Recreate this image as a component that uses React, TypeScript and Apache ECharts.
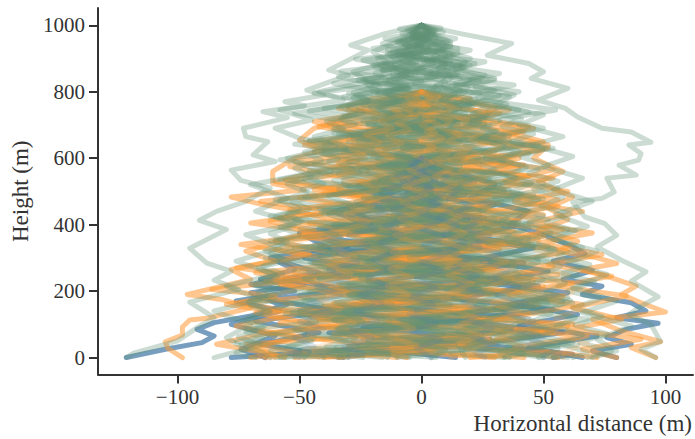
import React, { useEffect, useRef } from "react";
import * as echarts from "echarts";

const xTicks = [-100, -50, 0, 50, 100];
const yTicks = [0, 200, 400, 600, 800, 1000];

// flat lists: x, height, x, height, ...
const blueTraces: number[][] = [
  [0,600,-8,560,-20,520,-14,480,-36,440,-24,405,-50,375,-38,330,-62,300,-52,265,-66,235,-48,220,-70,195,-60,165,-55,160,-70,125,-85,105,-92,85,-85,65,-90,45,-105,25,-121,0],
  [0,600,14,560,30,520,20,480,44,440,36,400,49,373,60,340,67,313,54,290,70,262,58,235,74,215,66,190,86,165,92,140,80,120,97,103,84,85,76,60,86,40,70,20,80,0],
  [0,600,-12,570,6,530,-22,500,-4,465,-30,430,-10,395,-40,365,-16,330,-48,300,-20,265,-56,235,-30,205,-62,175,-36,140,-68,110,-42,75,-66,40,-46,15,-78,0],
  [0,600,10,565,-8,530,18,490,-14,455,26,420,-6,385,34,350,-2,315,42,285,6,250,48,215,10,180,54,145,16,110,58,75,22,40,62,10,54,0],
  [0,600,-4,560,-16,525,6,490,-26,460,14,425,-32,395,4,360,-42,330,20,295,-24,265,32,235,-36,205,10,175,-50,140,24,110,-38,75,18,40,-52,15,-32,0],
  [0,600,6,560,22,530,-6,495,30,460,8,430,38,395,16,360,46,330,22,295,52,260,26,225,60,195,36,160,64,130,40,95,72,65,44,30,66,0],
  [0,600,-6,550,4,500,-10,450,12,410,-18,370,20,335,-16,300,26,265,-22,230,30,195,-28,160,34,125,-24,90,28,55,-20,25,14,0],
  [0,600,2,540,-14,490,-30,450,-20,410,-46,370,-30,335,-58,290,-42,255,-70,220,-52,200,-76,170,-58,140,-78,100,-60,65,-74,25,-64,0],
  [0,600,-4,578,1,558,-6,536,-2,513,-9,492,-4,467,-12,445,-6,419,-15,396,-8,370,-17,346,-10,320,-20,295,-12,268,-22,243,-14,216,-25,190,-16,163,-27,138,-18,111,-29,85,-20,58,-32,33,-24,12,-30,0],
  [0,600,3,579,-1,559,6,537,2,515,9,493,4,469,12,447,7,421,15,398,9,372,18,348,11,322,20,297,13,270,23,245,15,218,25,193,17,166,27,140,19,114,29,88,21,61,31,36,22,14,26,0],
  [0,600,6,584,3,564,11,546,7,523,15,504,11,480,20,460,14,435,24,413,18,387,28,364,21,338,32,314,25,288,36,264,28,237,40,213,31,187,43,162,34,136,46,111,37,84,50,60,40,34,52,12,50,0],
  [0,600,-5,585,-2,565,-10,547,-6,524,-15,505,-10,481,-20,461,-14,436,-25,414,-19,388,-30,365,-22,339,-34,315,-26,288,-38,264,-30,238,-43,213,-33,187,-46,163,-37,136,-50,111,-40,84,-52,60,-44,34,-54,12,-50,0],
  [0,600,-3,577,2,555,-4,533,4,509,-2,486,7,462,-1,438,8,413,0,389,9,363,1,338,10,312,0,287,8,261,-2,236,6,210,-4,184,5,158,-5,132,6,106,-4,80,8,54,-2,28,4,0],
];

const orangeTraces: number[][] = [
  [0,800,-12,780,-24,755,-35,708,-44,690,-50,654,-40,625,-52,600,-61,560,-61,524,-48,505,-78,483,-66,462,-50,440,-62,410,-44,385,-58,350,-72,320,-60,290,-78,265,-70,235,-96,190,-82,175,-70,150,-88,118,-95,113,-98,92,-98,68,-105,47,-104,28,-98,0],
  [0,800,14,775,30,750,22,720,44,695,36,665,52,640,46,600,58,560,48,530,62,483,52,450,60,415,48,385,64,350,56,320,72,300,80,283,66,265,78,240,88,215,82,190,90,165,100,137,86,125,70,115,82,80,98,48,86,30,96,0],
  [0,800,-8,770,10,745,-20,720,4,695,-30,665,-6,640,22,615,-34,585,-2,555,30,525,-40,495,-10,465,24,435,-46,405,-6,375,38,345,-28,315,16,285,-52,255,-12,225,40,195,-36,165,10,135,-58,105,-20,75,30,45,-44,20,-10,0],
  [0,800,12,770,-6,745,24,720,-12,690,34,665,4,640,-20,610,42,580,8,550,-26,520,36,490,0,460,50,430,14,400,-30,370,44,340,6,310,-22,280,56,250,18,220,-14,190,48,160,4,130,62,100,22,70,-12,40,52,15,20,0],
  [0,800,-16,775,-30,750,-12,725,-42,695,-20,665,-48,640,-24,605,-54,575,-30,540,-8,510,-50,480,-22,450,-58,420,-32,385,-12,355,-60,325,-36,295,-10,260,-64,230,-40,200,-16,165,-68,135,-44,100,-14,70,-72,40,-48,12,-64,0],
  [0,800,18,775,36,745,16,720,46,690,22,660,52,630,28,600,10,570,54,540,26,505,56,475,32,445,12,415,58,385,30,350,60,320,34,285,14,255,62,225,36,190,66,160,40,125,18,95,68,65,38,30,72,0],
  [0,800,-4,775,6,755,-14,735,8,710,-20,690,14,665,-28,645,-4,620,24,600,-12,575,16,550,-32,525,6,500,-22,475,28,450,-14,425,10,400,-38,375,2,350,32,325,-18,300,20,275,-42,250,-4,225,28,200,-24,175,14,150,-46,125,-6,100,34,75,-28,50,6,25,-40,0],
  [0,800,5,770,-12,740,14,715,-22,685,18,660,-8,630,30,605,-26,580,8,555,-16,530,34,505,-4,480,-30,455,20,430,-10,405,38,380,-20,355,2,330,-36,305,26,280,-8,255,46,230,-18,205,4,180,-40,155,22,130,-14,105,42,80,-24,55,10,30,-34,0],
  [0,800,-20,780,-34,750,-18,735,-38,705,-10,680,-46,650,-14,625,-52,590,-22,560,-60,530,-28,500,-66,470,-36,440,-70,405,-40,375,-74,340,-46,310,-76,270,-44,240,-86,205,-60,185,-80,160,-52,130,-76,95,-50,60,-70,30,-56,0],
  [0,800,20,780,10,755,32,735,18,705,42,680,24,650,48,625,28,590,54,565,34,530,60,500,38,470,66,440,44,405,70,375,48,345,74,310,52,280,78,245,56,215,84,185,62,150,82,115,60,85,90,55,66,25,80,0],
  [0,800,3,780,-8,760,-2,735,-16,715,2,690,-24,670,-6,650,12,630,-14,605,8,580,-22,560,18,535,-6,510,28,490,-16,465,14,440,-24,415,26,395,-4,370,-30,345,12,320,-16,295,30,270,-6,245,-34,220,18,195,-12,170,34,145,-20,120,6,95,-36,70,22,45,-12,20,30,0],
  [0,800,8,775,16,750,2,730,26,705,8,680,36,655,14,630,40,600,18,570,44,545,20,515,-2,490,32,465,6,440,40,410,12,385,48,355,22,330,0,300,38,275,10,245,50,215,24,190,2,160,44,135,16,105,54,75,26,45,-2,20,42,0],
  [0,800,-10,770,-24,745,-6,720,-34,695,-12,670,-40,640,-18,615,2,590,-36,565,-12,535,-44,505,-16,480,6,455,-38,430,-14,395,-50,365,-24,340,4,310,-44,285,-20,250,-58,220,-26,195,2,165,-50,135,-22,110,-62,75,-30,45,0,15,-52,0],
  [0,800,-2,770,-16,750,4,720,-10,695,20,670,-8,645,-32,620,6,595,24,570,-18,545,10,520,-36,495,-6,470,18,445,-26,420,-2,395,28,370,-32,345,-10,320,16,295,-38,270,-2,245,24,220,-30,195,-10,170,20,145,-42,115,0,90,28,60,-30,35,-6,0],
  [0,800,10,760,28,735,6,705,34,680,50,650,30,625,12,595,40,570,22,540,4,510,42,480,56,455,30,425,16,395,50,365,28,335,8,305,54,275,34,245,14,215,58,185,36,155,16,125,60,95,38,65,18,35,56,0],
  [0,800,-14,760,-28,730,-44,710,-30,680,-16,650,-44,620,-26,590,-40,565,-56,535,-34,505,-18,475,-54,445,-34,410,-18,380,-60,350,-40,320,-20,290,-68,255,-44,225,-24,195,-74,165,-48,130,-26,100,-66,70,-84,40,-60,10,-70,0],
  [0,800,-6,782,-3,765,-12,748,-8,729,-17,711,-12,690,-23,671,-17,648,-29,629,-23,605,-35,584,-28,560,-40,538,-33,512,-45,490,-37,464,-49,441,-40,415,-52,391,-43,364,-55,340,-46,313,-57,288,-48,261,-60,236,-50,209,-62,184,-53,157,-64,132,-55,105,-66,80,-57,53,-68,28,-60,0],
  [0,800,-3,781,1,764,-6,746,-2,727,-10,708,-5,686,-14,667,-8,644,-18,624,-12,599,-22,578,-15,553,-25,530,-18,505,-28,482,-20,456,-31,432,-22,406,-33,382,-24,355,-36,330,-27,304,-38,279,-29,252,-40,227,-31,200,-42,175,-33,148,-44,122,-35,96,-46,71,-37,44,-48,20,-42,0],
  [0,800,-2,778,3,759,-1,740,5,719,0,699,6,678,-1,655,5,632,-3,610,4,586,-5,563,3,539,-7,515,2,491,-8,467,1,442,-9,418,0,393,-11,368,-1,343,-12,318,-3,292,-13,267,-4,241,-14,216,-5,190,-15,165,-4,139,-14,113,-3,88,-13,62,-2,37,-12,14,-6,0],
  [0,800,3,779,-1,760,5,741,1,721,7,702,2,680,9,659,3,636,11,614,4,590,12,568,5,544,14,521,6,496,15,473,7,448,16,424,8,398,18,374,9,349,19,324,10,298,20,273,11,247,21,222,12,196,22,170,13,144,23,119,14,93,24,67,15,42,22,16,12,0],
  [0,800,4,783,1,766,8,749,5,730,12,712,8,691,16,672,11,650,20,629,14,606,23,585,16,561,26,539,18,514,28,491,20,465,30,441,21,416,32,391,23,365,34,341,25,315,35,290,26,264,37,239,28,213,38,188,29,161,40,137,30,110,41,85,31,59,42,33,28,0],
  [0,800,7,786,4,769,13,753,9,734,19,717,14,697,25,678,20,656,32,636,26,613,38,592,31,568,43,547,35,522,47,499,39,474,50,450,42,424,53,400,45,374,55,350,47,324,58,299,50,273,60,248,51,222,62,197,53,170,65,145,55,119,66,93,57,67,68,42,59,18,58,0],
];

const greenTraces: number[][] = [
  [0,1000,-15,975,-29,940,-22,925,-38,865,-30,850,-47,805,-40,790,-56,770,-48,758,-65,740,-55,722,-73,690,-72,665,-63,650,-69,610,-60,590,-78,564,-74,533,-62,510,-72,470,-84,440,-91,413,-80,385,-95,329,-88,284,-78,260,-85,233,-75,205,-95,167,-85,120,-92,90,-100,50,-118,13,-121,0],
  [0,1000,16,975,37,945,27,910,44,885,50,860,45,840,60,810,48,775,59,750,64,724,74,690,86,679,94,648,85,640,90,614,89,594,81,579,88,549,76,540,79,498,74,479,62,468,67,423,75,404,80,368,72,333,82,293,92,258,86,230,97,183,92,163,85,130,94,100,98,48,90,25,96,0],
  [0,1000,-6,965,-12,945,-20,920,-14,890,-28,860,-22,830,-42,800,-32,775,-58,745,-45,715,-60,690,-50,660,-35,635,-55,600,-42,560,-70,520,-55,480,-68,440,-50,405,-72,370,-58,330,-76,290,-60,250,-80,215,-66,175,-85,140,-70,100,-80,60,-72,25,-85,0],
  [0,1000,6,970,12,950,8,925,20,900,14,870,30,840,22,815,38,790,30,760,50,730,40,700,58,665,45,640,62,605,50,575,66,540,54,505,70,470,55,430,68,395,52,360,72,320,60,285,76,250,62,210,80,170,66,135,86,95,72,55,80,20,70,0],
  [0,1000,-8,975,6,950,-14,925,10,905,-20,880,4,860,-26,835,-5,810,-32,785,-10,760,18,735,-22,705,8,680,-30,650,0,625,-38,590,-12,560,20,530,-25,500,10,470,-40,440,-5,410,30,380,-20,350,15,320,-45,285,0,255,35,225,-30,190,12,160,-50,125,-10,95,25,60,-35,30,-5,0],
  [0,1000,9,980,-6,955,15,930,-10,910,22,885,-3,860,30,835,5,810,36,785,12,755,-15,725,28,700,-5,670,42,640,10,610,-18,580,35,550,0,520,46,490,15,460,-12,430,40,400,5,370,52,335,20,305,-15,270,45,240,10,205,58,170,25,140,-8,105,48,70,15,35,55,0],
  [0,1000,-5,970,-16,945,-4,915,-24,895,-10,870,-34,845,-18,820,-44,795,-22,770,-52,735,-30,710,-10,690,-46,655,-20,630,-58,595,-28,565,-48,535,-15,505,-60,475,-30,445,-52,415,-18,385,-62,350,-35,320,-55,285,-22,255,-68,220,-40,185,-60,150,-25,120,-72,85,-45,50,-62,20,-40,0],
  [0,1000,6,965,12,940,6,920,18,890,10,865,26,850,14,825,40,800,25,775,55,745,32,715,50,690,22,660,54,630,26,600,48,570,18,540,56,510,30,480,50,450,22,420,60,385,35,350,58,315,28,285,64,250,38,215,60,180,30,150,68,115,40,80,62,45,35,15,50,0],
  [0,1000,3,975,-10,950,2,920,-18,900,0,875,-12,850,8,825,-18,800,4,770,-26,745,14,715,-12,685,24,660,-8,630,16,600,-22,575,10,545,-30,515,6,485,-16,455,24,425,-36,395,-4,365,18,335,-28,300,6,270,-42,235,-8,205,22,170,-38,140,2,110,-20,75,14,40,-30,10,-16,0],
  [0,1000,-3,960,12,935,-7,912,16,880,-16,862,9,840,-22,820,14,790,-24,760,22,735,-14,710,30,680,-26,650,20,620,-30,590,26,560,-20,530,34,500,-8,470,26,440,-28,410,20,380,-40,345,10,315,38,285,-14,255,28,220,-26,185,42,155,-4,120,32,85,-22,50,20,25,-10,0],
  [0,1000,-6,985,4,965,-9,950,3,935,-13,915,5,895,-17,878,-2,855,-24,838,-6,812,-30,795,-10,770,-40,750,-16,722,4,700,-34,672,-2,650,-44,618,-14,588,6,565,-32,535,-4,512,-48,482,-18,452,12,425,-36,398,-10,362,-52,330,-20,298,8,268,-42,238,-16,200,-56,165,-22,130,6,98,-44,66,-14,34,-58,0],
  [0,1000,5,985,-4,965,8,948,-2,930,12,912,2,892,18,874,4,852,24,832,8,810,32,790,14,768,40,745,18,718,-4,695,34,668,6,645,44,615,16,585,-6,558,38,532,8,505,50,478,22,448,-10,420,36,392,12,358,54,328,24,295,-6,265,44,232,16,198,58,162,26,128,-4,92,46,62,18,28,60,0],
  [0,1000,2,990,-4,975,3,958,-7,940,6,922,-12,905,9,888,-16,868,12,850,-20,828,16,806,-28,782,20,758,-32,728,26,702,-36,676,30,648,-40,620,34,594,-46,562,28,536,-34,508,40,478,-42,448,30,418,-50,388,44,358,-38,326,48,296,-52,262,36,232,-46,198,52,166,-56,132,42,100,-48,68,56,36,-60,0],
  [0,1000,-2,988,5,970,-8,955,0,938,-10,920,-2,902,10,884,-6,868,14,850,-14,832,6,815,-20,800,-2,778,20,762,-12,742,26,722,-22,700,12,682,-28,660,0,642,30,620,-18,598,16,576,-34,552,-6,530,36,506,-24,482,8,458,-38,434,-2,408,42,382,-16,356,24,330,-42,304,-8,278,40,250,-30,222,14,196,-48,170,2,142,44,116,-34,88,24,56,-50,24,-24,0],
  [0,1000,8,992,3,975,14,960,6,942,20,925,9,905,26,890,16,872,32,855,20,835,38,820,24,800,-4,780,30,760,44,738,20,712,-8,688,24,662,48,640,14,610,-14,582,30,555,50,525,8,498,-16,470,22,445,52,415,4,385,-24,352,26,322,56,292,10,260,-18,228,36,196,62,165,16,132,-26,100,30,70,64,38,12,12,34,0],
  [0,1000,-9,990,-3,975,-15,960,-5,945,-20,930,-8,912,-27,898,-12,880,-33,862,-16,845,-36,825,-20,805,6,785,-28,765,-46,742,-24,718,8,690,-30,668,-52,642,-18,615,10,590,-38,562,-58,535,-14,508,14,480,-40,452,-62,425,-22,392,18,362,-46,332,-64,300,-18,270,22,238,-50,208,-70,175,-26,145,16,112,-54,80,-76,48,-30,18,6,0],
  [0,1000,-4,982,-1,966,-8,951,-5,933,-12,921,-7,903,-15,888,-11,871,-19,856,-14,838,-23,824,-18,803,-27,789,-21,772,-30,756,-24,737,-33,719,-27,702,-36,688,-29,669,-38,652,-31,633,-41,617,-34,598,-44,581,-37,561,-46,543,-40,522,-49,506,-43,487,-53,469,-46,447,-55,431,-49,409,-58,392,-50,371,-60,352,-53,331,-62,313,-55,292,-65,274,-57,253,-66,236,-59,214,-67,196,-60,175,-70,157,-62,136,-71,118,-64,97,-72,78,-65,58,-74,39,-66,19,-62,0],
  [0,1000,3,984,-3,969,2,951,-6,936,-1,919,-9,902,-3,885,-12,867,-6,848,-15,832,-8,811,-18,793,-9,772,-21,754,-13,731,-24,712,-16,688,-28,669,-19,646,-31,624,-23,601,-33,579,-25,556,-36,533,-27,507,-38,485,-29,461,-41,438,-30,412,-42,389,-33,362,-44,339,-35,313,-46,289,-36,262,-48,238,-39,211,-50,187,-41,160,-53,136,-43,109,-52,85,-44,58,-55,33,-46,14,-48,0],
  [0,1000,-3,981,2,963,-5,946,1,927,-8,909,-2,889,-11,872,-4,851,-13,833,-5,812,-14,791,-6,768,-17,749,-8,726,-19,704,-9,681,-21,659,-11,634,-22,612,-13,587,-25,564,-14,539,-26,517,-15,491,-27,468,-16,442,-29,419,-18,392,-30,369,-19,342,-31,318,-20,291,-33,267,-21,240,-33,216,-22,189,-35,165,-24,138,-36,113,-25,86,-37,62,-26,34,-38,12,-30,0],
  [0,1000,2,983,-4,964,1,947,-6,928,0,909,-8,892,1,872,-9,851,0,831,-11,810,-1,789,-12,766,-2,744,-14,721,-3,699,-13,674,-2,652,-15,627,-4,604,-16,580,-5,556,-17,533,-6,509,-19,484,-7,460,-18,435,-6,411,-20,386,-8,361,-21,336,-9,311,-23,286,-10,262,-22,237,-11,211,-24,186,-12,161,-25,135,-13,110,-24,85,-12,60,-26,34,-13,13,-14,0],
  [0,1000,-2,980,3,961,-2,944,4,924,-3,905,5,886,-2,866,6,846,-3,824,7,803,-2,780,8,757,-3,735,9,711,-2,689,10,664,-1,641,8,617,-3,593,10,568,-2,545,9,521,-4,496,8,473,-5,448,7,423,-6,399,6,374,-7,349,7,324,-5,299,9,274,-4,249,8,224,-5,198,7,173,-6,148,8,122,-4,97,9,72,-3,46,10,22,4,0],
  [0,1000,3,979,-1,960,5,943,0,924,7,906,1,886,9,868,2,847,10,828,3,806,12,785,4,762,14,742,5,718,15,696,6,672,16,650,7,625,17,601,8,577,19,553,9,529,20,504,11,480,21,456,10,430,22,406,12,381,23,357,13,332,24,306,14,282,25,256,15,231,24,206,13,180,26,155,14,129,25,104,15,78,26,52,16,26,18,0],
  [0,1000,4,984,1,967,7,950,3,931,10,914,5,895,13,876,7,857,16,839,9,818,18,798,11,776,21,755,13,733,24,710,16,687,27,665,18,640,28,617,20,591,30,568,21,543,32,520,23,494,33,470,24,444,35,420,26,393,36,369,27,343,38,318,28,292,39,267,30,240,40,215,31,189,41,164,33,137,42,112,34,86,44,60,35,33,42,12,34,0],
  [0,1000,2,981,6,962,3,945,9,927,5,909,12,890,7,871,15,853,9,833,19,813,13,793,23,772,16,750,27,729,20,705,31,683,23,658,34,636,26,611,37,588,28,563,39,540,30,514,41,490,31,464,43,440,33,414,44,390,35,363,46,339,37,312,48,288,38,261,50,236,40,209,51,184,42,157,53,132,44,105,54,80,45,53,56,27,48,0],
  [0,1000,5,982,2,965,9,947,6,930,13,911,8,893,17,874,11,856,20,836,14,817,24,797,17,776,28,756,21,734,32,712,25,689,36,667,29,644,40,621,32,596,43,573,35,548,45,525,37,499,48,476,40,450,50,426,42,400,53,376,44,350,55,326,47,299,57,275,49,248,59,224,51,197,61,172,53,145,63,120,55,93,66,68,57,41,68,16,62,0],
  [0,1000,-5,983,-2,965,-10,948,-6,931,-14,912,-9,894,-19,875,-13,857,-23,837,-17,818,-28,797,-22,776,-33,755,-27,733,-39,711,-32,688,-44,665,-37,642,-48,618,-41,594,-52,570,-45,546,-55,522,-47,497,-58,472,-50,448,-60,423,-52,398,-62,373,-55,347,-64,322,-57,296,-67,270,-59,244,-69,219,-60,193,-71,167,-62,141,-73,115,-65,90,-75,63,-66,38,-76,14,-68,0],
  [0,1000,-3,978,3,958,-1,940,6,921,2,902,10,882,4,861,12,841,6,820,14,798,8,775,16,752,9,730,15,706,7,683,14,659,4,636,11,611,1,587,8,563,-3,539,4,514,-8,490,0,465,-12,441,-5,416,-16,391,-8,366,-18,341,-11,315,-22,290,-14,264,-25,239,-18,213,-29,187,-20,162,-32,136,-24,110,-35,85,-27,59,-39,33,-30,14,-34,0],
  [0,1000,1,978,-4,959,0,941,-7,922,-3,902,-11,883,-5,862,-12,842,-6,820,-15,798,-10,775,-18,752,-11,730,-16,706,-7,683,-13,659,-3,636,-10,611,0,587,-7,563,4,539,-3,514,9,490,1,465,13,441,6,416,17,391,9,366,20,341,12,315,24,290,15,264,27,239,19,213,31,187,22,162,34,136,26,110,37,85,29,59,41,33,32,14,36,0],
  [0,1000,6,985,3,968,11,952,7,933,15,917,10,897,20,880,14,861,25,842,18,823,30,803,23,781,35,762,27,739,41,718,33,695,46,673,37,650,50,627,41,603,52,579,44,554,56,531,46,505,58,482,49,456,61,432,51,406,63,382,54,355,66,331,56,304,69,280,58,253,71,228,60,201,73,176,62,149,74,124,63,97,76,72,65,45,78,20,68,0],
];

const toPairs = (flat: number[]) => {
  const pairs: number[][] = [];
  for (let i = 0; i < flat.length; i += 2) pairs.push([flat[i], flat[i + 1]]);
  return pairs;
};

const traceSeries = (traces: number[][], color: string, opacity: number) =>
  traces.map((t) => ({
    type: "line",
    data: toPairs(t),
    symbol: "none",
    silent: true,
    clip: false,
    lineStyle: { color, width: 5, opacity, join: "round", cap: "round" },
  }));

const FONT = "Liberation Serif";
const INK = "#333333";
const BLUE = "#4A7DAA";
const ORANGE = "#FF9933";
const GREEN = "#5F9275";

export default function App() {
  const ref = useRef<HTMLDivElement>(null);
  useEffect(() => {
    const chart = echarts.init(ref.current!, null, { renderer: "svg" });
    const axisCommon = {
      type: "value",
      splitLine: { show: false },
      axisLine: { show: true, onZero: false, lineStyle: { color: INK, width: 2 } },
      axisTick: { show: true, length: 9, lineStyle: { color: INK, width: 2 } },
    };
    chart.setOption({
      animation: false,
      backgroundColor: "#ffffff",
      grid: { left: 98, right: 2, top: 8, bottom: 64.5, containLabel: false, outerBoundsMode: "none" },
      xAxis: {
        ...axisCommon,
        min: -132.6,
        max: 111.3,
        axisTick: { ...axisCommon.axisTick, customValues: xTicks },
        axisLabel: {
          customValues: xTicks,
          margin: 12,
          fontFamily: FONT,
          fontSize: 21,
          color: INK,
          formatter: (v: number) => String(v).replace("-", "\u2212"),
        },
        name: "Horizontal distance (m)",
        nameLocation: "end",
        nameGap: -1,
        nameTextStyle: {
          fontFamily: FONT,
          fontSize: 23,
          color: INK,
          align: "right",
          verticalAlign: "top",
          padding: [37, 0, 0, 0],
        },
      },
      yAxis: {
        ...axisCommon,
        min: -51,
        max: 1052,
        axisTick: { ...axisCommon.axisTick, customValues: yTicks },
        axisLabel: {
          customValues: yTicks,
          margin: 13,
          fontFamily: FONT,
          fontSize: 21,
          color: INK,
          formatter: (v: number) => String(v),
        },
        name: "Height (m)",
        nameLocation: "middle",
        nameRotate: 90,
        nameGap: 66,
        nameTextStyle: { fontFamily: FONT, fontSize: 23, color: INK },
      },
      series: [
        ...traceSeries(blueTraces.slice(0, 8), BLUE, 0.75),
        ...traceSeries(orangeTraces.slice(0, 16), ORANGE, 0.55),
        ...traceSeries(greenTraces, GREEN, 0.32),
        ...traceSeries(blueTraces.slice(8), BLUE, 0.2),
        ...traceSeries(orangeTraces.slice(16), ORANGE, 0.2),
      ],
    });
    return () => chart.dispose();
  }, []);
  return <div ref={ref} style={{ position: "absolute", left: 0, top: 0, width: 695, height: 439 }} />;
}
